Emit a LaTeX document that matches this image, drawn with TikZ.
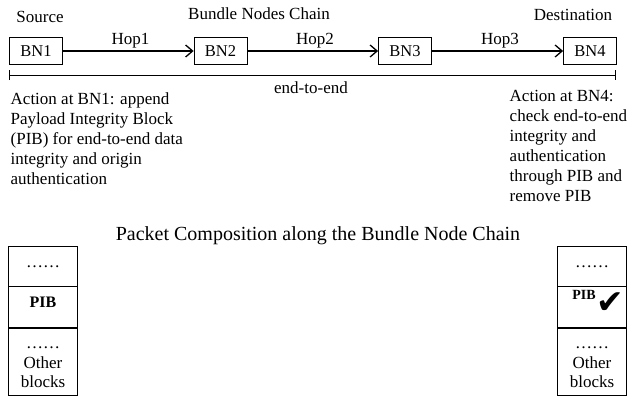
\documentclass[tikz,border=0pt]{standalone}
\usepackage{fontspec}
\setmainfont{Liberation Serif}
\newfontfamily\symfont{DejaVu Sans}
\usetikzlibrary{arrows.meta}
\begin{document}
\begin{tikzpicture}[x=1pt,y=-1pt,
  every node/.style={font=\fontsize{17}{19.5}\selectfont, inner sep=0pt},
  bn/.style={draw, line width=0.8pt, minimum width=53pt, minimum height=27pt, font=\fontsize{16.5}{19}\selectfont},
  hop/.style={line width=1.3pt, -{Straight Barb[length=7pt,width=12pt,line width=1.3pt]}},
  blk/.style={draw, line width=0.8pt, minimum width=69pt},
  lbl/.style={anchor=base},
  txt/.style={align=left, anchor=north west, font=\fontsize{17}{20}\selectfont}]
\useasboundingbox (0,0) rectangle (639,396);
% top labels
\node[lbl] (src) at (40,23) {Source};
\node[lbl] (chain) at (259,20) {Bundle Nodes Chain};
\node[lbl] (dst) at (573,21) {Destination};
% bundle nodes
\node[bn] (bn1) at (36,51) {BN1};
\node[bn] (bn2) at (220.5,51) {BN2};
\node[bn] (bn3) at (405,51) {BN3};
\node[bn] (bn4) at (590,51) {BN4};
\draw[hop] (bn1) -- (bn2);
\draw[hop] (bn2) -- (bn3);
\draw[hop] (bn3) -- (bn4);
\node[lbl] (h1) at (130.5,45) {Hop1};
\node[lbl] (h2) at (315,45) {Hop2};
\node[lbl] (h3) at (500,45) {Hop3};
% end-to-end
\coordinate (e1) at (9,75);
\coordinate (e2) at (616,75);
\draw[line width=0.8pt, {Bar[width=10pt]}-{Bar[width=10pt]}] (e1) -- (e2);
\node (ee) at (311,87.5) {end-to-end};
% actions
\node[txt] (a1) at (10.5,92.5) {Action at BN1: append\\Payload Integrity Block\\(PIB) for end-to-end data\\integrity and origin\\authentication};
\node[txt] (a4) at (509.5,90.2) {Action at BN4:\\check end-to-end\\integrity and\\authentication\\through PIB and\\remove PIB};
% title
\node (title) at (318,236) {\fontsize{20}{24}\selectfont Packet Composition along the Bundle Node Chain};
% left stack
\node[blk, minimum height=40pt] (l1) at (43,266) {};
\node[blk, minimum height=41pt, anchor=north] (l2) at (l1.south) {};
\node[blk, minimum height=67pt, anchor=north] (l3) at (l2.south) {};
\node[lbl] (l1t) at (43,267) {……};
\node[lbl] (l2t) at (43,307) {\fontsize{16}{19}\selectfont\bfseries PIB};
\node[lbl] (l3a) at (43,348) {……};
\node[lbl] (l3b) at (43,368) {Other};
\node[lbl] (l3c) at (43,387) {blocks};
% right stack
\node[blk, minimum height=40pt] (r1) at (592,266) {};
\node[blk, minimum height=41pt, anchor=north] (r2) at (r1.south) {};
\node[blk, minimum height=67pt, anchor=north] (r3) at (r2.south) {};
\node[lbl] (r1t) at (592,267) {……};
\node[lbl] (r2t) at (584,299) {\fontsize{14}{16}\selectfont\bfseries PIB};
\node (chk) at (610.5,303) {\symfont\fontsize{33}{33}\selectfont ✔};
\node[lbl] (r3a) at (592,348) {……};
\node[lbl] (r3b) at (592,368) {Other};
\node[lbl] (r3c) at (592,387) {blocks};
\end{tikzpicture}
\end{document}
